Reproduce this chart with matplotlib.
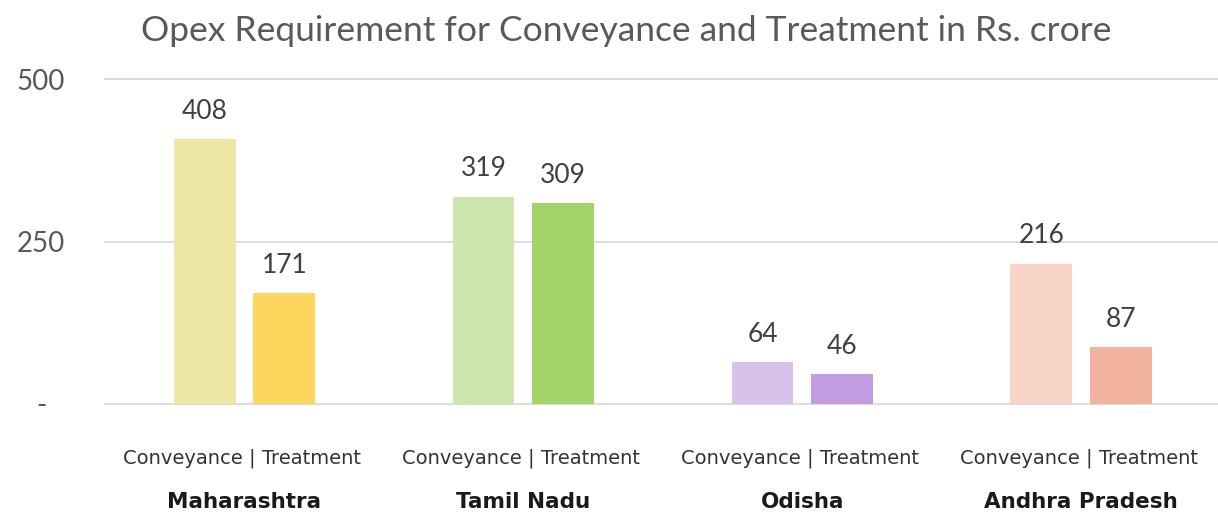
import numpy as np
import matplotlib
matplotlib.use('Agg')
import matplotlib.pyplot as plt

states = ['Maharashtra', 'Tamil Nadu', 'Odisha', 'Andhra Pradesh']
conveyance = [408, 319, 64, 216]
treatment = [171, 309, 46, 87]
conv_colors = ['#EEE8A4', '#CCE6AE', '#D8C2EA', '#F8D4C8']
treat_colors = ['#FDD65E', '#A3D46A', '#C39BE0', '#F2B39E']
yticks = [0, 250, 500]
ytick_labels = ['-', '250', '500']

fig = plt.figure(figsize=(12.18, 5.15), dpi=100)
ax = fig.add_axes([105/1218, 1-404/515, 1-105/1218, (404-79)/515])

x = np.arange(len(states))
w = 0.222
off = 0.143
ax.bar(x - off, conveyance, w, color=conv_colors, zorder=2)
ax.bar(x + off, treatment, w, color=treat_colors, zorder=2)

for i in range(len(states)):
    for xv, v in ((x[i] - off, conveyance[i]), (x[i] + off, treatment[i])):
        ax.annotate(str(v), (xv, v), xytext=(0, 11), textcoords='offset points',
                    ha='center', va='bottom', fontsize=19, color='#404040',
                    family='Lato')
    ax.text(x[i] - 0.01, -0.167, 'Conveyance | Treatment', transform=ax.get_xaxis_transform(),
            ha='center', va='center', fontsize=14, color='#333333', family='DejaVu Sans')
    ax.text(x[i], -0.302, states[i], transform=ax.get_xaxis_transform(),
            ha='center', va='center', fontsize=15.5, color='#1a1a1a',
            family='DejaVu Sans', fontweight='bold')

ax.set_xlim(-0.5, 3.49)
ax.set_ylim(0, 500)
for yv in yticks:
    ax.axhline(yv, color='#d9d9d9', lw=1.3, zorder=1, clip_on=False)
ax.set_yticks(yticks)
ax.set_yticklabels(ytick_labels, fontsize=20, color='#595959', family='Lato', ha='center')
ax.tick_params(axis='y', length=0, pad=46)
ax.set_xticks([])
for s in ax.spines.values():
    s.set_visible(False)

fig.text(626/1218, 1-31/515, 'Opex Requirement for Conveyance and Treatment in Rs. crore',
         ha='center', va='center', fontsize=25.5, color='#595959', family='Lato')

fig.savefig('out.png', dpi=100)
